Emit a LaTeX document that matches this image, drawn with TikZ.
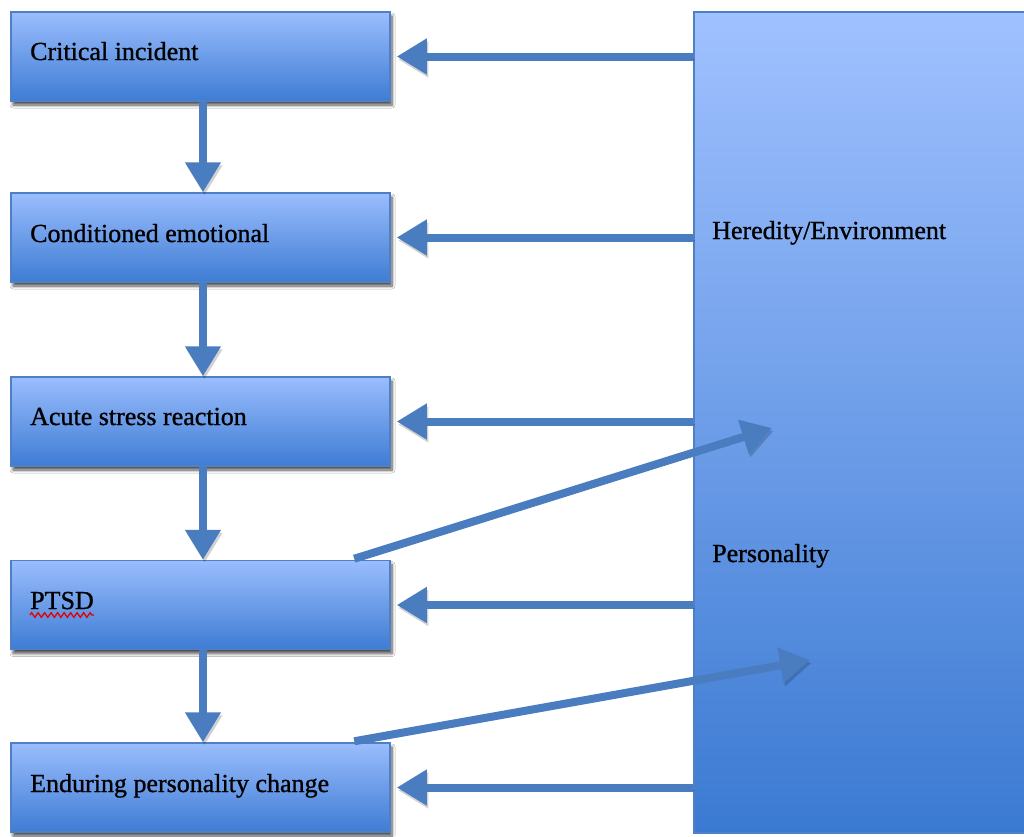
\documentclass[tikz,border=0pt]{standalone}
\usepackage{fontspec}
\setmainfont[FakeBold=1]{Liberation Serif}
\usetikzlibrary{arrows.meta,shadows.blur,calc,decorations.pathmorphing}
\definecolor{boxtop}{HTML}{9ABDFD}
\definecolor{boxbot}{HTML}{3E7CD4}
\definecolor{bigtop}{HTML}{A0C1FF}
\definecolor{bigbot}{HTML}{3B7AD2}
\definecolor{boxedge}{HTML}{4F80C6}
\definecolor{arrowblue}{HTML}{4A7DC0}

\begin{document}
\begin{tikzpicture}[x=1pt,y=-1pt,
  stagebox/.style={rectangle, minimum width=379pt, minimum height=89pt, inner sep=0pt,
    top color=boxtop, bottom color=boxbot, draw=boxedge, line width=1.5pt,
    blur shadow={shadow blur steps=6, shadow blur radius=3pt, shadow xshift=2pt, shadow yshift=-4pt, shadow opacity=70}},
  bigbox/.style={rectangle, minimum width=340pt, minimum height=821pt, inner sep=0pt,
    top color=bigtop, bottom color=bigbot, draw=boxedge, line width=1.5pt},
  stagelabel/.style={anchor=base west, inner sep=0pt, font=\fontsize{26}{30}\selectfont, text=black},
  flowarrow/.style={draw=arrowblue, line width=8pt, -{Triangle[length=30pt,width=34pt]},
    preaction={draw=black, opacity=0.18, transform canvas={shift={(1.5pt,-3pt)}}}},
]
\useasboundingbox (0,0) rectangle (1024,836);
\fill[white] (0,0) rectangle (1024,836);

% stages of the reaction, top to bottom
\node[stagebox] (box1) at (200.5,56.5) {};
\node[stagebox] (box2) at (200.5,237.5) {};
\node[stagebox] (box3) at (200.5,421.5) {};
\node[stagebox] (box4) at (200.5,605) {};
\node[stagebox] (box5) at (200.5,787.5) {};

\node[stagelabel] (lbl1) at (30,60) {Critical incident};
\node[stagelabel] (lbl2) at (30,242) {Conditioned emotional};
\node[stagelabel] (lbl3) at (30,425) {Acute stress reaction};
\node[stagelabel] (lbl4) at (30,609) {PTSD};
\node[stagelabel] (lbl5) at (30,792) {Enduring personality change};

% spell-check underline
\draw[red!90!black, line width=1.3pt, decorate, decoration={zigzag, amplitude=2.3pt, segment length=6.5pt}]
  ([yshift=-6pt]lbl4.base west) -- ([yshift=-6pt]lbl4.base east);

% heredity / environment / personality column
\node[bigbox] (big) at (864,422.5) {};
\node[stagelabel] (lblhe) at (712,239) {Heredity/Environment};
\node[stagelabel] (lblpe) at (712,562) {Personality};

% downward flow
\foreach \a/\b in {box1/box2, box2/box3, box3/box4, box4/box5}
  \draw[flowarrow] ([xshift=2.5pt]\a.south) -- ([xshift=2.5pt]\b.north);

% influences from the right column
\foreach \b in {box1, box2, box3, box4, box5}
  \draw[flowarrow] (big.west |- \b.east) -- ([xshift=6pt]\b.east);

% feedback into personality
\coordinate (fb1) at (772,428);
\coordinate (fb2) at (810,660);
\draw[flowarrow] ($(box4.north west)+(344,-1)$) -- (fb1);
\draw[flowarrow] ($(box5.north west)+(344,-1)$) -- (fb2);
\end{tikzpicture}
\end{document}
